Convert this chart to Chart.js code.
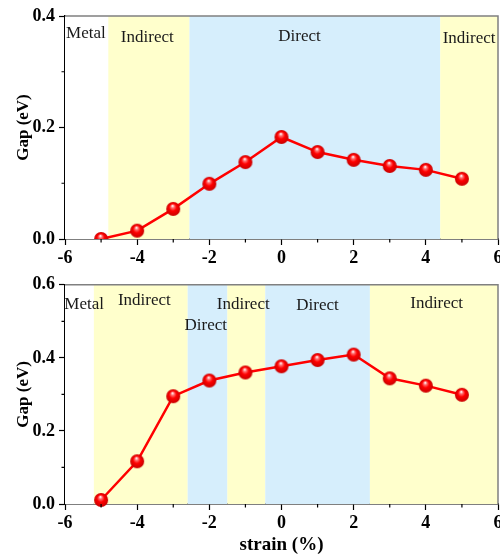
<!DOCTYPE html>
<html><head><meta charset="utf-8">
<script src="https://cdn.jsdelivr.net/npm/chart.js@4/dist/chart.umd.min.js"></script>
<style>
html,body{margin:0;padding:0;background:#fff;overflow:hidden;width:500px;height:559px;}
canvas{position:absolute;left:0;}
#c1{top:0;}
#c2{top:270px;}
</style></head><body>
<canvas id="c1" width="520" height="270"></canvas>
<canvas id="c2" width="520" height="289"></canvas>
<script>
// ---- data ----
const strain = [-5, -4, -3, -2, -1, 0, 1, 2, 3, 4, 5];
const gapTop = [0.000, 0.015, 0.054, 0.099, 0.138, 0.183, 0.156, 0.142, 0.131, 0.124, 0.108];
const gapBottom = [0.011, 0.117, 0.295, 0.338, 0.360, 0.377, 0.394, 0.409, 0.344, 0.324, 0.299];
const xTicks = [-6, -4, -2, 0, 2, 4, 6];
const xMinorTicks = [-5, -3, -1, 1, 3, 5];
const yTicksTop = [0.0, 0.2, 0.4];
const yMinorTop = [0.1, 0.3];
const yTicksBottom = [0.0, 0.2, 0.4, 0.6];
const yMinorBottom = [0.1, 0.3, 0.5];
const bandEdgesTop = [-6, -4.8, -2.55, 4.4, 6];
const bandTypesTop = ['Metal', 'Indirect', 'Direct', 'Indirect'];
const bandEdgesBottom = [-6, -5.2, -2.6, -1.5, -0.45, 2.45, 6];
const bandTypesBottom = ['Metal', 'Indirect', 'Direct', 'Indirect', 'Direct', 'Indirect'];

// label anchor positions (data units)
const labelPosTop = [[-5.42, 0.368], [-3.72, 0.362], [0.5, 0.364], [5.2, 0.36]];
const labelPosBottom = [[-5.47, 0.547], [-3.8, 0.557], [-2.1, 0.488], [-1.06, 0.547], [1.0, 0.544], [4.3, 0.55]];

const bandColors = { Metal: '#ffffff', Indirect: '#ffffcc', Direct: '#d6eefc' };
const SERIF = '"Liberation Serif", "Times New Roman", serif';

function sphere(r) {
  const s = Math.ceil(r * 2) + 2;
  const c = document.createElement('canvas');
  c.width = c.height = s;
  const g = c.getContext('2d');
  const cx = s / 2, cy = s / 2;
  const grad = g.createRadialGradient(cx - r * 0.1, cy - r * 0.45, 0.3, cx, cy, r);
  grad.addColorStop(0, '#ffffff');
  grad.addColorStop(0.2, '#ff7070');
  grad.addColorStop(0.5, '#ff0000');
  grad.addColorStop(1, '#c80000');
  g.fillStyle = grad;
  g.beginPath(); g.arc(cx, cy, r, 0, Math.PI * 2); g.fill();
  return c;
}
const ball = sphere(7);

const decor = {
  id: 'decor',
  beforeDatasetsDraw(chart, args, o) {
    const { ctx, chartArea: a, scales: { x, y } } = chart;
    ctx.save();
    for (let i = 0; i < o.types.length; i++) {
      const x0 = x.getPixelForValue(o.edges[i]);
      const x1 = x.getPixelForValue(o.edges[i + 1]);
      ctx.fillStyle = bandColors[o.types[i]];
      ctx.fillRect(x0, a.top, x1 - x0, a.bottom - a.top);
    }
    ctx.fillStyle = '#1a1a1a';
    ctx.font = '17px ' + SERIF;
    ctx.textAlign = 'center';
    ctx.textBaseline = 'middle';
    for (let i = 0; i < o.types.length; i++) {
      ctx.fillText(o.types[i], x.getPixelForValue(o.labels[i][0]), y.getPixelForValue(o.labels[i][1]));
    }
    ctx.restore();
  },
  afterDraw(chart, args, o) {
    const { ctx, chartArea: a, scales: { x, y } } = chart;
    ctx.save();
    ctx.strokeStyle = '#808080';
    ctx.lineWidth = 1.5;
    ctx.beginPath();
    ctx.moveTo(a.left, a.top); ctx.lineTo(a.right, a.top); ctx.lineTo(a.right, a.bottom);
    ctx.stroke();
    ctx.strokeStyle = '#000';
    ctx.lineWidth = 1.2;
    ctx.beginPath();
    for (const v of xMinorTicks) {
      const px = x.getPixelForValue(v);
      ctx.moveTo(px, a.bottom); ctx.lineTo(px, a.bottom + 3.5);
    }
    for (const v of o.yMinor) {
      const py = y.getPixelForValue(v);
      ctx.moveTo(a.left, py); ctx.lineTo(a.left - 3.5, py);
    }
    ctx.stroke();
    ctx.restore();
  }
};

function makeChart(id, data, yTicks, yMax, edges, types, labels, yMinor, showXTitle, clip) {
  return new Chart(document.getElementById(id), {
    type: 'line',
    data: {
      labels: strain,
      datasets: [{
        data: data.map((v, i) => ({ x: strain[i], y: v })),
        borderColor: '#ff0000',
        borderWidth: 2.5,
        pointStyle: ball,
        pointRadius: 7,
        pointHoverRadius: 7,
        tension: 0,
        clip: clip
      }]
    },
    options: {
      responsive: false,
      animation: false,
      events: [],
      layout: { padding: { left: 0, right: 22, top: showXTitle ? 11 : 16, bottom: showXTitle ? 3 : 0 } },
      plugins: {
        legend: { display: false },
        tooltip: { enabled: false },
        decor: { edges, types, labels, yMinor }
      },
      scales: {
        x: {
          type: 'linear', min: -6, max: 6,
          afterBuildTicks: s => { s.ticks = xTicks.map(v => ({ value: v })); },
          afterFit: s => { s.height = showXTitle ? 52 : 31; },
          ticks: {
            color: '#000', padding: 3,
            font: { family: SERIF, size: 18, weight: 'bold' },
            callback: v => String(v)
          },
          grid: { drawOnChartArea: false, drawTicks: true, tickLength: 6, tickColor: '#000', tickWidth: 1.2 },
          border: { display: true, color: '#000', width: 1.5 },
          title: {
            display: showXTitle, text: 'strain (%)', color: '#000',
            font: { family: SERIF, size: 19, weight: 'bold' },
            padding: { top: 0, bottom: 0 }
          }
        },
        y: {
          type: 'linear', min: 0, max: yMax,
          afterBuildTicks: s => { s.ticks = yTicks.map(v => ({ value: v })); },
          afterFit: s => { s.width = 65; },
          ticks: {
            color: '#000', padding: 4,
            font: { family: SERIF, size: 18, weight: 'bold' },
            callback: v => Number(v).toFixed(1)
          },
          grid: { drawOnChartArea: false, drawTicks: true, tickLength: 6, tickColor: '#000', tickWidth: 1.2 },
          border: { display: true, color: '#000', width: 1.5 },
          title: {
            display: true, text: 'Gap (eV)', color: '#000',
            font: { family: SERIF, size: 17, weight: 'bold' },
            padding: { top: 13, bottom: 0 }
          }
        }
      }
    },
    plugins: [decor]
  });
}

makeChart('c1', gapTop, yTicksTop, 0.4, bandEdgesTop, bandTypesTop, labelPosTop, yMinorTop, false, 0);
makeChart('c2', gapBottom, yTicksBottom, 0.6, bandEdgesBottom, bandTypesBottom, labelPosBottom, yMinorBottom, true, false);
</script>
</body></html>
